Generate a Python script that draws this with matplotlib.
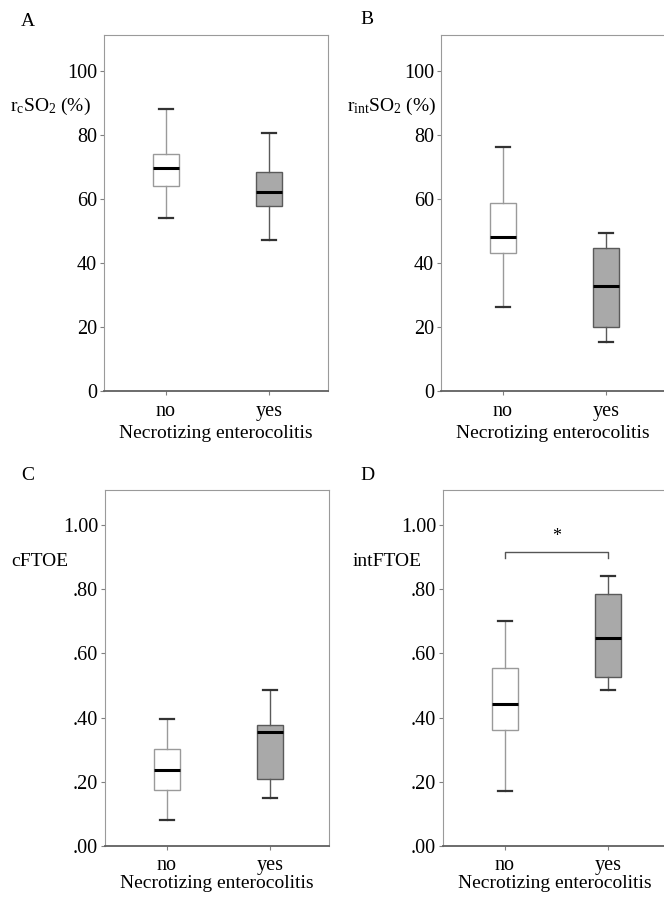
import numpy as np
import matplotlib.pyplot as plt

plt.rcParams['font.family'] = 'Liberation Serif'
plt.rcParams['mathtext.fontset'] = 'custom'
plt.rcParams['mathtext.rm'] = 'Liberation Serif'
plt.rcParams['mathtext.it'] = 'Liberation Serif:italic'

groups = ['no', 'yes']

# box stats per group: [whislo, q1, med, q3, whishi]
rcso2 = [[54.0, 64.2, 69.8, 74.2, 88.1], [47.2, 57.8, 62.2, 68.4, 80.6]]
rintso2 = [[26.2, 43.1, 48.0, 58.9, 76.4], [15.4, 20.1, 32.7, 44.7, 49.4]]
cftoe = [[0.080, 0.175, 0.237, 0.303, 0.395], [0.151, 0.209, 0.356, 0.378, 0.486]]
intftoe = [[0.172, 0.361, 0.443, 0.556, 0.700], [0.487, 0.525, 0.647, 0.786, 0.841]]

pct_ticks = [0, 20, 40, 60, 80, 100]
pct_labels = ['0', '20', '40', '60', '80', '100']
frac_ticks = [0.0, 0.2, 0.4, 0.6, 0.8, 1.0]
frac_labels = ['.00', '.20', '.40', '.60', '.80', '1.00']

W, H = 664, 898
fig = plt.figure(figsize=(W / 100, H / 100), dpi=100)


def panel(rect, stats, ticks, tlabels, ymax, ylabel, letter, letter_xy, lab_x, xpad, lpad):
    ax = fig.add_axes(rect)
    bxp = []
    for s in stats:
        bxp.append(dict(whislo=s[0], q1=s[1], med=s[2], q3=s[3], whishi=s[4], fliers=[]))
    face = ['white', '#a9a9a9']
    edge = ['#9a9a9a', '#5a5a5a']
    for i in range(2):
        ax.bxp([bxp[i]], positions=[i], widths=0.25, patch_artist=True, showfliers=False,
               boxprops=dict(facecolor=face[i], edgecolor=edge[i], linewidth=1.0),
               whiskerprops=dict(color=edge[i], linewidth=1.0),
               capprops=dict(color='#333333', linewidth=1.6),
               medianprops=dict(color='black', linewidth=2.2),
               capwidths=0.13)
    ax.set_xlim(-0.60, 1.57)
    ax.set_ylim(0, ymax)
    ax.set_yticks(ticks)
    ax.set_yticklabels(tlabels)
    ax.set_xticks([0, 1])
    ax.set_xticklabels(groups)
    ax.tick_params(axis='both', length=3, color='#808080', labelsize=14.5, pad=2)
    ax.tick_params(axis='x', pad=xpad)
    for sp in ['left', 'top', 'right']:
        ax.spines[sp].set_color('#9a9a9a')
    ax.spines['bottom'].set_color('#606060')
    ax.spines['bottom'].set_linewidth(1.3)
    ax.set_xlabel('Necrotizing enterocolitis', fontsize=14, labelpad=lpad)
    ax.text(lab_x, 0.80, ylabel, transform=ax.transAxes, fontsize=14, ha='center', va='center')
    fig.text(letter_xy[0] / W, 1 - letter_xy[1] / H, letter, fontsize=14, ha='center', va='center')
    return ax


top_row = 1 - 391 / H
bot_row = 1 - 846 / H
hgt = 356 / H
wid = 224 / W

panel([104 / W, top_row, wid, hgt], rcso2, pct_ticks, pct_labels, 111.25,
      r'r$_\mathrm{c}$SO$_2$ (%)', 'A', (28, 22), -0.24, 5, 3)
panel([441 / W, top_row, wid, hgt], rintso2, pct_ticks, pct_labels, 111.25,
      r'r$_\mathrm{int}$SO$_2$ (%)', 'B', (367, 20), -0.22, 5, 3)
panel([105 / W, bot_row, wid, hgt], cftoe, frac_ticks, frac_labels, 1.109,
      'cFTOE', 'C', (28, 476), -0.29, 4, 0)
axd = panel([443 / W, bot_row, wid, hgt], intftoe, frac_ticks, frac_labels, 1.109,
            'intFTOE', 'D', (367, 476), -0.25, 4, 0)

# significance bracket
axd.plot([0, 0, 1, 1], [0.897, 0.915, 0.915, 0.897], color='#555555', linewidth=1.0)
axd.text(0.5, 0.965, '*', ha='center', va='center', fontsize=13)

fig.savefig('out.png', dpi=100)
